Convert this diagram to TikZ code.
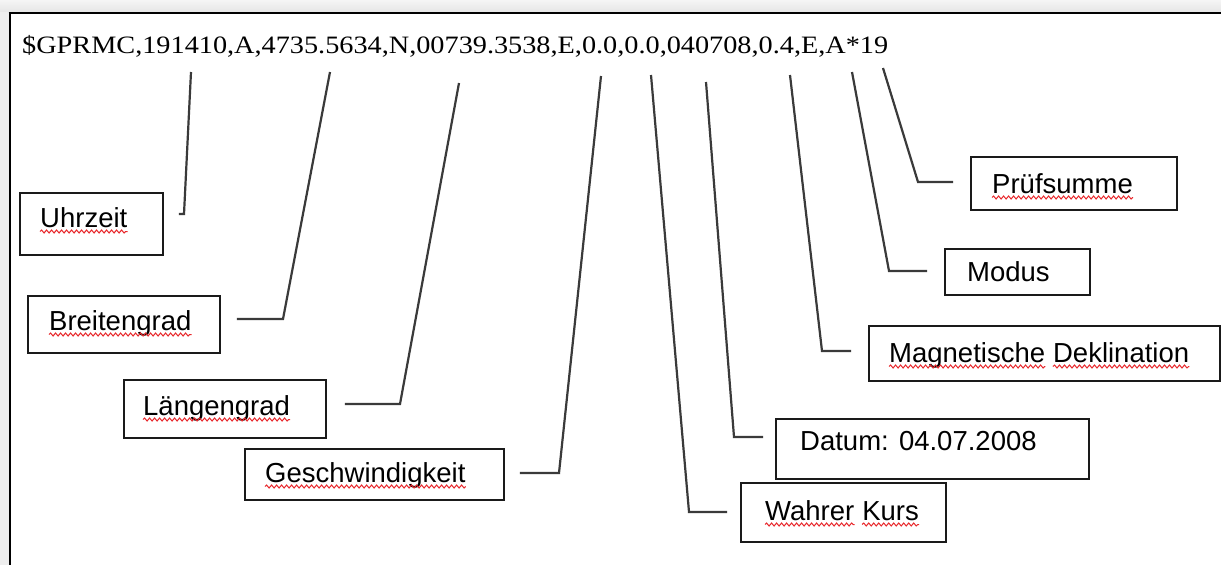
\documentclass[tikz,border=0pt]{standalone}
\usepackage{fontspec}
\usepackage{graphicx}
\setmainfont{Liberation Sans}
\newfontfamily\sentencefont{Liberation Serif}
\usetikzlibrary{calc,decorations.pathmorphing}

\definecolor{boxline}{HTML}{1A1A1A}
\definecolor{leadergray}{HTML}{3A3A3A}
\definecolor{spellred}{HTML}{E8282C}
\definecolor{chrome}{HTML}{EEEEEE}

\tikzset{
  labelbox/.style={draw=boxline, line width=1.8pt, inner sep=0pt, anchor=north west},
  labeltext/.style={font=\fontsize{27.5}{30}\selectfont, inner sep=0pt, anchor=base west, text=black},
  leader/.style={draw=leadergray, line width=2.2pt, line join=miter},
  spell/.style={draw=spellred, line width=1pt,
    decorate, decoration={snake, amplitude=1.5pt, segment length=5pt}},
}

% wavy underline below a text node
\newcommand{\squiggle}[1]{\draw[spell] ([yshift=-4.5pt]#1.base west) -- ([yshift=-4.5pt]#1.base east);}

\begin{document}
\begin{tikzpicture}[x=1pt,y=-1pt]
\useasboundingbox (0,0) rectangle (1221,565);

% window chrome and page frame
\fill[white] (0,0) rectangle (1221,565);
\shade[top color=white!96!black, bottom color=white!90!black] (0,0) rectangle (1221,12);
\fill[chrome] (0,12) rectangle (8.5,565);
\draw[black, line width=2.4pt] (8.5,13.2) -- (1221,13.2);
\draw[black, line width=2.4pt] (9.7,12) -- (9.7,565);

% the NMEA sentence
\node[inner sep=0pt, anchor=base west] (nmea) at (22,53)
  {\resizebox{866pt}{\height}{\sentencefont\fontsize{25}{28}\selectfont
   \$GPRMC,191410,A,4735.5634,N,00739.3538,E,0.0,0.0,040708,0.4,E,A*19}};

% label boxes
\node[labelbox, minimum width=143pt, minimum height=62pt] (uhr) at (19,192) {};
\node[labelbox, minimum width=192pt, minimum height=57pt] (breit) at (27,295) {};
\node[labelbox, minimum width=202pt, minimum height=58pt] (laeng) at (123,379) {};
\node[labelbox, minimum width=259pt, minimum height=51pt] (gesch) at (244,448) {};
\node[labelbox, minimum width=205pt, minimum height=59pt] (kurs) at (740,482) {};
\node[labelbox, minimum width=313pt, minimum height=60pt] (datum) at (775,418) {};
\node[labelbox, minimum width=351pt, minimum height=55pt] (magn) at (868,325) {};
\node[labelbox, minimum width=145pt, minimum height=46pt] (modus) at (944,248) {};
\node[labelbox, minimum width=206pt, minimum height=53pt] (pruef) at (970,156) {};

% label texts
\node[labeltext] (uhr-t) at (40,227) {Uhrzeit};
\node[labeltext] (breit-t) at (49,330) {Breitengrad};
\node[labeltext] (laeng-t) at (143,415) {Längengrad};
\node[labeltext] (gesch-t) at (265,482) {Geschwindigkeit};
\node[labeltext] (kurs-t1) at (765,520) {Wahrer};
\node[labeltext] (kurs-t2) at ([xshift=7.6pt]kurs-t1.base east) {Kurs};
\node[labeltext] (datum-t) at (800,450) {Datum: 04.07.2008};
\node[labeltext] (magn-t1) at (889,362) {Magnetische};
\node[labeltext] (magn-t2) at ([xshift=7.6pt]magn-t1.base east) {Deklination};
\node[labeltext] (modus-t) at (967,281) {Modus};
\node[labeltext] (pruef-t) at (992,193) {Prüfsumme};

% spelling marks
\squiggle{uhr-t}
\squiggle{breit-t}
\squiggle{laeng-t}
\squiggle{gesch-t}
\squiggle{kurs-t1}
\squiggle{kurs-t2}
\squiggle{magn-t1}
\squiggle{magn-t2}
\squiggle{pruef-t}

% leader lines: field position -> bend -> short hook towards the box
\coordinate (uhr-a) at (191,72);    \coordinate (uhr-b) at (184,214);
\coordinate (breit-a) at (330,72);  \coordinate (breit-b) at (283,319);
\coordinate (laeng-a) at (459,83);  \coordinate (laeng-b) at (400,404);
\coordinate (gesch-a) at (601,76);  \coordinate (gesch-b) at (559,473);
\coordinate (kurs-a) at (651,75);   \coordinate (kurs-b) at (689,512);
\coordinate (datum-a) at (706,82);  \coordinate (datum-b) at (734,437);
\coordinate (magn-a) at (790,75);   \coordinate (magn-b) at (822,351);
\coordinate (modus-a) at (852,72);  \coordinate (modus-b) at (889,271);
\coordinate (pruef-a) at (883,68);  \coordinate (pruef-b) at (918,182);

\draw[leader] (uhr-a) -- (uhr-b) -- ($(uhr-b -| uhr.east)+(15,0)$);
\draw[leader] (breit-a) -- (breit-b) -- ($(breit-b -| breit.east)+(16,0)$);
\draw[leader] (laeng-a) -- (laeng-b) -- ($(laeng-b -| laeng.east)+(18,0)$);
\draw[leader] (gesch-a) -- (gesch-b) -- ($(gesch-b -| gesch.east)+(15,0)$);
\draw[leader] (kurs-a) -- (kurs-b) -- ($(kurs-b -| kurs.west)+(-13,0)$);
\draw[leader] (datum-a) -- (datum-b) -- ($(datum-b -| datum.west)+(-12,0)$);
\draw[leader] (magn-a) -- (magn-b) -- ($(magn-b -| magn.west)+(-17,0)$);
\draw[leader] (modus-a) -- (modus-b) -- ($(modus-b -| modus.west)+(-17,0)$);
\draw[leader] (pruef-a) -- (pruef-b) -- ($(pruef-b -| pruef.west)+(-17,0)$);
\end{tikzpicture}
\end{document}
